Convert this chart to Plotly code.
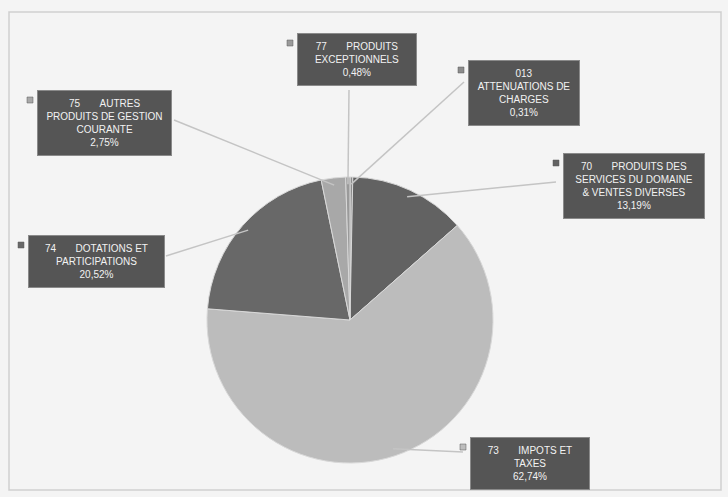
import math
import plotly.graph_objects as go

# Budget revenue breakdown by chapter
codes = ["013", "70", "73", "74", "75", "77"]
titles = [
    "ATTENUATIONS DE<br>CHARGES",
    "PRODUITS DES<br>SERVICES DU DOMAINE<br>& VENTES DIVERSES",
    "IMPOTS ET<br>TAXES",
    "DOTATIONS ET<br>PARTICIPATIONS",
    "AUTRES<br>PRODUITS DE GESTION<br>COURANTE",
    "PRODUITS<br>EXCEPTIONNELS",
]
shares = [0.31, 13.19, 62.74, 20.52, 2.75, 0.48]
slice_colors = ["#8c8c8c", "#626262", "#bcbcbc", "#686868", "#a8a8a8", "#9a9a9a"]

W, H = 728, 497
cx, cy, R = 350, 320, 143

# label box placement (pixel coords: left, top, width, own-line code) and line attach point
boxes = {
    "013": (468, 60, 112, True, (464, 82)),
    "70": (563, 153, 142, False, (556, 182)),
    "73": (470, 437, 120, False, (463, 452)),
    "74": (28, 235, 137, False, (166, 256)),
    "75": (37, 90, 135, False, (174, 120)),
    "77": (297, 33, 120, False, (349, 90)),
}

fig = go.Figure()
fig.add_trace(go.Pie(
    labels=[f"{c} {t.replace('<br>', ' ')}" for c, t in zip(codes, titles)],
    values=shares,
    sort=False,
    direction="clockwise",
    rotation=0,
    textinfo="none",
    hoverinfo="label+percent",
    marker=dict(colors=slice_colors, line=dict(color="#d8d8d8", width=1)),
    domain=dict(x=[(cx - R) / W, (cx + R) / W], y=[(H - cy - R) / H, (H - cy + R) / H]),
    showlegend=False,
))

shapes = [dict(type="rect", xref="x", yref="y", x0=9, y0=12, x1=721, y1=490,
               line=dict(color="#cfcfcf", width=1.5), layer="below")]
annotations = []
total = sum(shares)
acc = 0.0
for code, title, v, col in zip(codes, titles, shares, slice_colors):
    mid = (acc + v / 2) / total * 2 * math.pi
    acc += v
    px = cx + R * 0.95 * math.sin(mid)
    py = cy - R * 0.95 * math.cos(mid)
    left, top, bw, own_line, (ax, ay) = boxes[code]
    shapes.append(dict(type="line", xref="x", yref="y", x0=px, y0=py, x1=ax, y1=ay,
                       line=dict(color="#c4c4c4", width=1.5)))
    # legend key square
    shapes.append(dict(type="rect", xref="x", yref="y", x0=left - 10, y0=top + 7,
                       x1=left - 4, y1=top + 13, fillcolor=col,
                       line=dict(color="#5a5a5a", width=0.5)))
    pct = f"{v:.2f}%".replace(".", ",")
    if own_line:
        label = f"{code}<br>{title}<br>{pct}"
    else:
        first, rest = title.split("<br>", 1)
        label = f"{code}&nbsp;&nbsp;&nbsp;&nbsp;&nbsp;&nbsp;&nbsp;{first}<br>{rest}<br>{pct}"
    annotations.append(dict(
        x=left, y=top, xref="x", yref="y", xanchor="left", yanchor="top",
        text=label, showarrow=False, align="center", width=bw - 16,
        bgcolor="#555555", bordercolor="#8a8a8a", borderwidth=1, borderpad=7,
        font=dict(family="Liberation Sans", size=10, color="#f2f2f2"),
    ))

fig.update_layout(
    width=W, height=H,
    margin=dict(l=0, r=0, t=0, b=0),
    paper_bgcolor="#f4f4f4",
    plot_bgcolor="rgba(0,0,0,0)",
    xaxis=dict(range=[0, W], visible=False, fixedrange=True),
    yaxis=dict(range=[H, 0], visible=False, fixedrange=True),
    shapes=shapes,
    annotations=annotations,
)

fig.write_html("out.html")
